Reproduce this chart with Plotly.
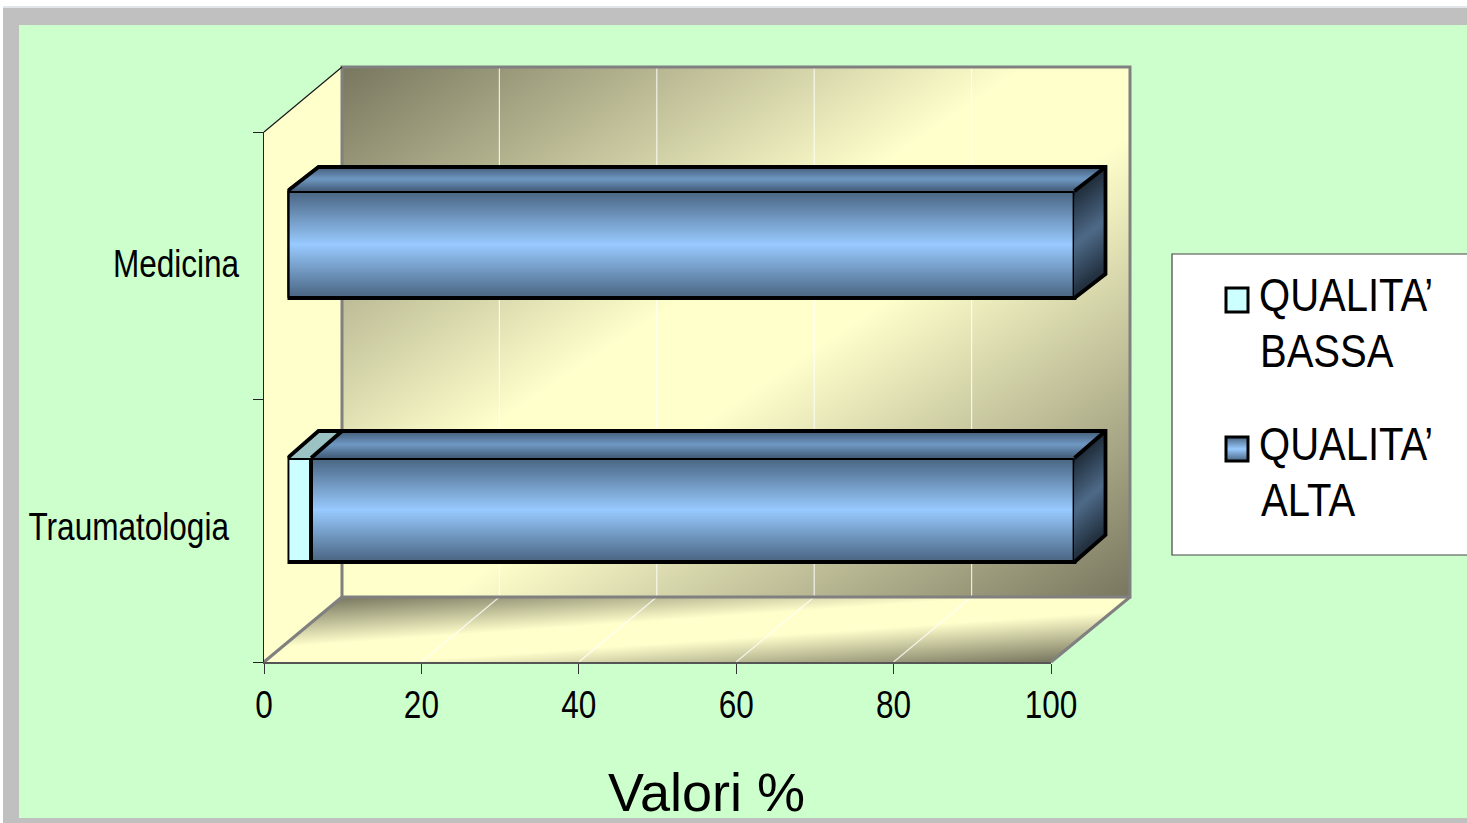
import base64, struct, zlib
import numpy as np
import plotly.graph_objects as go

# ---------- data ----------
categories = ["Traumatologia", "Medicina"]
qualita_bassa = [3, 0]
qualita_alta = [97, 100]
x_ticks = [0, 20, 40, 60, 80, 100]
legend_lines_bassa = ["QUALITA’", "BASSA"]
legend_lines_alta = ["QUALITA’", "ALTA"]
axis_title = "Valori %"

# ---------- geometry (reference pixels) ----------
W, H = 1467, 823
AX_L, AX_R, AX_B, AX_T = 264, 1051, 662, 132
BAR_L, BAR_R = 287.5, 1074.5
BAND = 265.5
CENTER_TR, CENTER_ME = 510, 244.5
PX_PER_UNIT = (AX_R - AX_L) / 100
WALL_DX, WALL_DY = 78, 65
BAR_DX = 31
BAR_DY = [27, 24]
THICK = [104 / BAND, 107 / BAND]
EXT_R, EXT_T = 1132, 60
FONT = "Liberation Sans, Arial, sans-serif"


def px(x):
    return x / W


def py(y):
    return 1 - y / H


def mix(a, b, t):
    return tuple(a[i] + (b[i] - a[i]) * t for i in range(3))


def rgb(c):
    return "rgb(%d,%d,%d)" % tuple(round(v) for v in c)


def png_uri(arr):
    h, w = arr.shape[:2]
    raw = b"".join(b"\x00" + arr[i].tobytes() for i in range(h))

    def chunk(tag, data):
        body = tag + data
        return struct.pack(">I", len(data)) + body + struct.pack(">I", zlib.crc32(body) & 0xFFFFFFFF)

    out = b"\x89PNG\r\n\x1a\n" + chunk(b"IHDR", struct.pack(">IIBBBBB", w, h, 8, 6, 0, 0, 0))
    out += chunk(b"IDAT", zlib.compress(raw, 9)) + chunk(b"IEND", b"")
    return "data:image/png;base64," + base64.b64encode(out).decode()


# ---------- wall and floor gradient picture ----------
IMG_X0, IMG_Y0, IMG_X1, IMG_Y1 = 264, 66, 1132, 664
yy, xx = np.mgrid[IMG_Y0:IMG_Y1, IMG_X0:IMG_X1]
xx = xx + 0.5
yy = yy + 0.5
DARK = np.array([120, 119, 95], float)
LIGHT = np.array([255, 255, 204], float)
img = np.zeros(xx.shape + (4,), dtype=np.uint8)
WALL_L, WALL_R, WALL_T, WALL_B = AX_L + WALL_DX, AX_R + WALL_DX + 1, 67, AX_B - WALL_DY


def paint(mask, k):
    k = np.clip(k, 0, 1)
    col = DARK[None, None, :] + (LIGHT - DARK)[None, None, :] * k[:, :, None]
    img[mask, :3] = col[mask].round().astype(np.uint8)
    img[mask, 3] = 255


wall = (xx >= WALL_L) & (xx <= WALL_R) & (yy >= WALL_T) & (yy <= WALL_B)
wx = (xx - WALL_L) / (WALL_R - WALL_L)
wy = (yy - WALL_T) / (WALL_B - WALL_T)
paint(wall, 1.15 * np.minimum(wx + wy, 2 - wx - wy))
v = np.clip((AX_B - yy) / WALL_DY, 0, 1)
u = (xx - AX_L - v * WALL_DX) / (AX_R - AX_L)
floor = (yy > WALL_B) & (yy <= AX_B) & (u >= 0) & (u <= 1)
paint(floor, np.minimum(1.2 * u + 1.3 * (1 - v), 1.2 * (1 - u) + 1.3 * v))

# ---------- chart ----------
fig = go.Figure()
x_pos = list(range(len(categories)))

# keeps the visible axes alive
fig.add_trace(go.Scatter(x=[0, 100], y=[-0.5, 1.5], xaxis="x", yaxis="y", mode="none",
                         hoverinfo="skip", showlegend=False))

CYAN = "#CCFFFF"
F_MID, F_EDGE = (152, 202, 255), (72, 100, 128)
T_MID, T_EDGE = (112, 152, 194), (66, 92, 120)
S_MID, S_EDGE = (78, 106, 136), (30, 43, 56)
N_FRONT = 53
fig.add_trace(go.Bar(
    x=qualita_bassa, y=x_pos, orientation="h", base=[0] * len(categories),
    width=THICK, offset=[-t / 2 for t in THICK],
    marker=dict(color=CYAN, line=dict(width=0)),
    xaxis="x2", yaxis="y2", name=" ".join(legend_lines_bassa), showlegend=False,
))
# front face gradient: each bar is painted over the previous one, from the full bar inwards
for j in range(N_FRONT):
    s = j / N_FRONT
    k = abs(2 * (s + 0.5 / N_FRONT) - 1)
    fig.add_trace(go.Bar(
        x=qualita_alta, y=x_pos, orientation="h", base=qualita_bassa,
        width=[t * (1 - s) for t in THICK],
        offset=[-t / 2 + t * s for t in THICK],
        marker=dict(color=rgb(mix(F_MID, F_EDGE, k)), line=dict(width=0)),
        xaxis="x2", yaxis="y2", name=" ".join(legend_lines_alta), showlegend=False,
        hoverinfo="skip",
    ))
for vals, bases in ((qualita_bassa, [0, 0]), (qualita_alta, qualita_bassa)):
    fig.add_trace(go.Bar(
        x=vals, y=x_pos, orientation="h", base=bases,
        width=THICK, offset=[-t / 2 for t in THICK],
        marker=dict(color="rgba(0,0,0,0)", line=dict(color="black", width=3.8)),
        xaxis="x2", yaxis="y2", showlegend=False, hoverinfo="skip",
    ))

dx_bar = BAR_DX / PX_PER_UNIT
dy_bar = [d / BAND for d in BAR_DY]


def poly_trace(xs, ys, fill=None, line=None, lw=0.0):
    fig.add_trace(go.Scatter(
        x=xs, y=ys, mode="lines", xaxis="x2", yaxis="y2",
        fill="toself" if fill else "none", fillcolor=fill,
        line=dict(color=line or fill, width=lw, simplify=False),
        hoverinfo="skip", showlegend=False,
    ))


# top and side faces: each slice runs to the far edge and the next one paints over it
N_SLICE = 30
for j in range(N_SLICE):
    s0, s1 = j / N_SLICE, (j + 1) / N_SLICE
    k = abs(s0 + s1 - 1)
    xs_t, ys_t, xs_s, ys_s = [], [], [], []
    for i in x_pos:
        a = qualita_bassa[i]
        b = a + qualita_alta[i]
        top = i + THICK[i] / 2
        bot = i - THICK[i] / 2
        d = dy_bar[i]
        xs_t += [a + dx_bar * s0, b + dx_bar * s0, b + dx_bar, a + dx_bar, a + dx_bar * s0, None]
        ys_t += [top + d * s0, top + d * s0, top + d, top + d, top + d * s0, None]
        y0 = top + (bot - top) * s0
        xs_s += [b, b + dx_bar, b + dx_bar, b, b, None]
        ys_s += [y0, y0 + d, bot + d, bot, y0, None]
    poly_trace(xs_t, ys_t, fill=rgb(mix(T_MID, T_EDGE, k)))
    poly_trace(xs_s, ys_s, fill=rgb(mix(S_MID, S_EDGE, k)))

out_x, out_y = [], []
for i in x_pos:
    a = qualita_bassa[i]
    b = a + qualita_alta[i]
    top = i + THICK[i] / 2
    bot = i - THICK[i] / 2
    d = dy_bar[i]
    if a > 0:
        poly_trace([0, a, a + dx_bar, dx_bar, 0], [top, top, top + d, top + d, top], fill="#9BC3C3")
        out_x += [a, a + dx_bar, None]
        out_y += [top, top + d, None]
    out_x += [0, dx_bar, b + dx_bar, b + dx_bar, b, None, b, b + dx_bar, None]
    out_y += [top, top + d, top + d, bot + d, bot, None, top, top + d, None]
poly_trace(out_x, out_y, line="black", lw=3.8)

# ---------- shapes ----------
GREY = "#808080"


def path(points):
    return "M" + "L".join("%.5f,%.5f" % (px(x), py(y)) for x, y in points) + "Z"


def rect(x0, y0, x1, y1, fill, line=None, lw=0, layer="below"):
    return dict(type="rect", xref="paper", yref="paper", x0=px(x0), x1=px(x1), y0=py(y0), y1=py(y1),
                fillcolor=fill, line=dict(color=line or fill, width=lw), layer=layer)


def seg(x0, y0, x1, y1, color, lw):
    return dict(type="line", xref="paper", yref="paper", x0=px(x0), x1=px(x1), y0=py(y0), y1=py(y1),
                line=dict(color=color, width=lw), layer="below")


shapes = [
    rect(0, 0, W, 6, "white"),
    rect(0, 0, 3, H, "white"),
    rect(3, 6, W, 8, "#E2E6EA"),
    rect(3, 8, W, 25, "#C0C0C0"),
    rect(3, 8, 19, H, "#C0C0C0"),
    rect(3, 818, W, H, "#C0C0C0"),
    dict(type="path", xref="paper", yref="paper", layer="below",
         path=path([(AX_L, AX_B), (AX_L, AX_T), (AX_L + WALL_DX, WALL_T), (AX_L + WALL_DX, WALL_B)]),
         fillcolor="#FFFFCC", line=dict(width=0)),
]
# grid lines on the floor and the back wall, from the tick values
for val in x_ticks[1:-1]:
    xf = AX_L + val * PX_PER_UNIT
    shapes.append(seg(xf, AX_B, xf + WALL_DX, WALL_B, "rgba(255,255,255,0.8)", 1.2))
    shapes.append(seg(xf + WALL_DX, WALL_B, xf + WALL_DX, WALL_T, "rgba(255,255,255,0.8)", 1.2))
shapes += [
    rect(WALL_L, WALL_T, WALL_R, WALL_B, "rgba(0,0,0,0)", line=GREY, lw=3),
    seg(AX_L, AX_B, WALL_L, WALL_B, GREY, 3),
    seg(AX_R, AX_B, WALL_R, WALL_B, GREY, 3),
    seg(AX_L, AX_T, WALL_L, WALL_T, "#1A1A1A", 1.2),
    rect(1172, 254, W + 2, 555, "white", line="#444444", lw=1.2),
]
for (x0, y0, x1, y1), kind in (((1226, 288, 1248, 312), "low"), ((1226, 437, 1248, 461), "high")):
    if kind == "low":
        shapes.append(rect(x0, y0, x1, y1, CYAN, layer="above"))
    else:
        n = y1 - y0
        for j in range(n):
            k = abs(2 * (j + 0.5) / n - 1)
            shapes.append(rect(x0, y0 + j, x1, y0 + j + 1.3, rgb(mix(F_MID, F_EDGE, k)), layer="above"))
    shapes.append(rect(x0, y0, x1, y1, "rgba(0,0,0,0)", line="black", lw=3, layer="above"))

# ---------- text ----------
annotations = []


def label(text, x, y, size):
    annotations.append(dict(text=text, x=px(x), y=py(y), xref="paper", yref="paper",
                            xanchor="center", yanchor="middle", showarrow=False,
                            font=dict(family=FONT, size=size, color="black")))


label(categories[1], 176, 264, 38)
label(categories[0], 129, 527, 38)
label(legend_lines_bassa[0], 1346, 295, 46)
label(legend_lines_bassa[1], 1327, 351, 46)
label(legend_lines_alta[0], 1346, 444, 46)
label(legend_lines_alta[1], 1308, 500, 46)
label(axis_title, 706, 792, 54)

# ---------- layout ----------
fig.update_layout(
    width=W, height=H, autosize=False,
    margin=dict(l=0, r=0, t=0, b=0, autoexpand=False, pad=0),
    paper_bgcolor="#CCFFCC", plot_bgcolor="rgba(0,0,0,0)",
    barmode="overlay", showlegend=False,
    font=dict(family=FONT, color="black"),
    xaxis=dict(domain=[px(AX_L), px(AX_R)], range=[0, 100], anchor="y",
               tickmode="array", tickvals=x_ticks, ticks="outside", ticklen=10, tickwidth=1.2,
               tickcolor="#333333", showgrid=False, zeroline=False, showline=True,
               linecolor="#555555", linewidth=2.2, tickfont=dict(family=FONT, size=38),
               ticklabelstandoff=-2),
    yaxis=dict(domain=[py(AX_B), py(AX_T)], range=[-0.5, 1.5], anchor="x",
               tickmode="array", tickvals=[-0.5, 0.49, 1.5], ticktext=["", "", ""],
               ticks="outside", ticklen=10, tickwidth=1.2, tickcolor="#222222",
               showgrid=False, zeroline=False, showline=True, linecolor="#222222", linewidth=1.4),
    xaxis2=dict(domain=[px(BAR_L), px(EXT_R)], range=[0, (EXT_R - BAR_L) / PX_PER_UNIT],
                anchor="y2", visible=False),
    yaxis2=dict(domain=[py(CENTER_TR + BAND / 2), py(EXT_T)],
                range=[-0.5, (CENTER_TR - EXT_T) / BAND], anchor="x2", visible=False),
    shapes=shapes,
    annotations=annotations,
    images=[dict(source=png_uri(img), xref="paper", yref="paper", x=px(IMG_X0), y=py(IMG_Y0),
                 sizex=(IMG_X1 - IMG_X0) / W, sizey=(IMG_Y1 - IMG_Y0) / H,
                 xanchor="left", yanchor="top", sizing="stretch", layer="below")],
)

# The reference's Arial is condensed horizontally: narrow the drawn glyphs to match.
POST = """
document.body.style.margin='0';
document.documentElement.style.overflow='hidden';
function squeeze(){
  document.querySelectorAll('.annotation-text, .xtick text').forEach(function(t){
    if(t.hasAttribute('textLength')) return;
    var s=t.textContent||'';
    if(s.indexOf('Valori')>=0) return;
    var f=/QUALITA|BASSA|ALTA/.test(s)?0.87:0.83;
    t.setAttribute('textLength', t.getComputedTextLength()*f);
    t.setAttribute('lengthAdjust','spacingAndGlyphs');
  });
}
squeeze(); setTimeout(squeeze,50); setTimeout(squeeze,300);
"""
fig.write_html("out.html", config=dict(displayModeBar=False), post_script=POST)
